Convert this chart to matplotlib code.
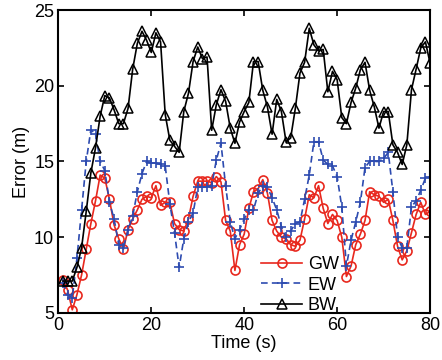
import numpy as np
import matplotlib
matplotlib.use("Agg")
import matplotlib.pyplot as plt

# time axis (s)
t = np.arange(1, 81)

gw = [7.2, 6.5, 5.2, 6.2, 7.5, 9.2, 10.9, 12.4, 14.1, 13.9,
      12.5, 10.8, 9.9, 9.2, 10.5, 11.2, 11.8, 12.5, 12.7, 12.6,
      13.4, 12.1, 12.3, 12.3, 10.9, 10.5, 10.4, 11.2, 12.7, 13.7,
      13.7, 13.7, 13.6, 14.0, 13.65, 11.1, 10.4, 7.8, 9.5, 10.2,
      11.9, 13.0, 13.2, 13.8, 12.9, 11.1, 10.4, 10.0, 9.9, 9.5,
      9.4, 9.8, 11.2, 12.8, 12.6, 13.4, 11.9, 10.9, 11.5, 11.1,
      10.0, 7.4, 8.1, 9.5, 10.2, 11.1, 13.0, 12.8, 12.7, 12.3,
      12.5, 11.1, 9.4, 8.5, 9.1, 10.3, 11.5, 12.3, 11.5, 11.7]

ew = [7.0, 6.2, 6.0, 8.6, 11.8, 15.0, 17.1, 16.8, 15.0, 14.4,
      12.3, 11.2, 9.5, 9.3, 10.5, 11.4, 13.0, 14.2, 15.0, 14.9,
      14.9, 14.8, 14.7, 12.2, 10.3, 8.0, 9.9, 11.0, 11.6, 13.3,
      13.3, 13.3, 13.4, 15.1, 16.2, 13.4, 11.0, 9.9, 10.5, 11.2,
      11.8, 11.8, 12.9, 13.4, 13.3, 12.6, 11.8, 10.7, 10.0, 10.4,
      10.9, 11.0, 12.5, 14.1, 16.3, 16.3, 15.1, 14.8, 14.7, 14.0,
      12.0, 8.1, 9.8, 11.0, 12.3, 14.6, 15.0, 15.0, 15.0, 15.2,
      15.6, 13.0, 10.0, 9.3, 9.3, 12.0, 12.4, 13.1, 13.9, 14.0]

bw = [7.1, 7.1, 7.1, 8.0, 9.3, 11.7, 14.25, 15.9, 18.0, 19.35,
      19.2, 18.4, 17.5, 17.5, 18.5, 21.1, 22.8, 23.6, 23.0, 22.2,
      23.5, 22.9, 18.1, 16.4, 16.0, 15.6, 18.3, 19.5, 21.6, 22.56,
      21.8, 21.9, 17.06, 18.75, 19.74, 18.97, 17.2, 16.2, 17.6, 18.3,
      18.9, 21.6, 21.6, 19.7, 18.6, 16.8, 19.1, 18.3, 16.3, 16.55,
      18.5, 20.84, 21.55, 23.8, 22.7, 22.3, 22.4, 19.6, 20.95, 20.4,
      17.9, 17.5, 18.9, 19.85, 21.06, 21.55, 19.7, 18.6, 17.2, 18.3,
      18.3, 16.1, 15.6, 14.8, 16.1, 19.74, 21.1, 22.5, 22.9, 21.5]

plt.rcParams['font.family'] = ['Liberation Sans', 'DejaVu Sans']
plt.rcParams['font.size'] = 13

fig = plt.figure(figsize=(4.42, 3.6), dpi=100)
ax = fig.add_axes([0.132, 0.131, 0.841, 0.841])

ax.plot(t, gw, color='#e8281e', lw=1.2, marker='o', ms=6.5, mfc='none',
        mew=1.2, label='GW')
ax.plot(t, ew, color='#2d4bb0', lw=1.2, ls=(0, (4, 2.5)), marker='+', ms=7,
        mew=1.2, label='EW')
ax.plot(t, bw, color='black', lw=1.2, marker='^', ms=7, mfc='none',
        mew=1.1, label='BW')

ax.set_xlim(0, 80)
ax.set_ylim(5, 25)
ax.set_xticks([0, 20, 40, 60, 80])
ax.set_yticks([5, 10, 15, 20, 25])
ax.tick_params(direction='in', top=True, right=True, length=4, width=1.2,
               labelsize=13, pad=3)
for s in ax.spines.values():
    s.set_linewidth(1.5)
ax.set_xlabel('Time (s)', fontsize=13, labelpad=1)
ax.set_ylabel('Error (m)', fontsize=13, labelpad=3)

ax.legend(loc='lower left', bbox_to_anchor=(0.545, -0.005), frameon=False,
          numpoints=1, handlelength=2.3, handletextpad=0.3, labelspacing=0.2,
          borderpad=0, borderaxespad=0, fontsize=13)

fig.savefig('out.png', dpi=100)
